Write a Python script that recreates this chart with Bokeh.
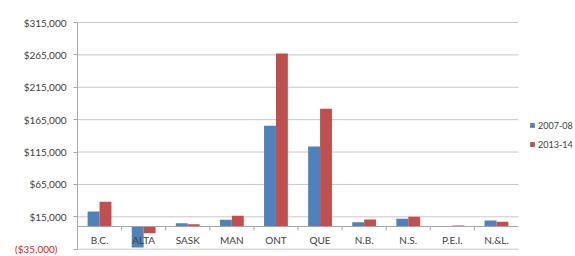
from bokeh.plotting import figure
from bokeh.models import (FixedTicker, NumeralTickFormatter, Legend, LegendItem,
                          LinearAxis, ColumnDataSource, Range1d)
from bokeh.core.properties import value
from bokeh.embed import file_html
from bokeh.resources import INLINE

provinces = ["B.C.", "ALTA", "SASK", "MAN", "ONT", "QUE", "N.B.", "N.S.", "P.E.I.", "N.&L."]
series_names = ["2007-08", "2013-14"]
values_0708 = [23200, -32400, 5200, 10300, 155500, 123500, 6800, 11900, 300, 9300]
values_1314 = [38100, -10200, 3700, 16500, 267100, 181700, 10800, 15000, 1500, 7300]
y_ticks = [-35000, 15000, 65000, 115000, 165000, 215000, 265000, 315000]

FONT = "Lato"
BLUE = "#4f81bd"
RED = "#c0504d"
GRID = "#c8c8c8"
AXIS = "#a6a6a6"
TXT = "#404040"

# layout (pixels)
FRAME_W, FRAME_H = 503, 248
CAT_PX = 44.1                     # width of one category slot
PX_PER_UNIT = 350000 / 226.7      # value units per pixel
BAR_W, OFF = 0.27, 0.135

n = len(provinces)
centers = [i + 0.5 for i in range(n)]
src = ColumnDataSource(dict(cat=provinces, xa=[c - OFF for c in centers],
                            xb=[c + OFF for c in centers], xc=centers,
                            a=values_0708, b=values_1314))

y_lo, y_hi = y_ticks[0], y_ticks[-1]
p = figure(x_range=Range1d(0, FRAME_W / CAT_PX),
           y_range=Range1d(y_lo - 4.3 * PX_PER_UNIT, y_hi + 17 * PX_PER_UNIT),
           width=567, height=248, frame_width=FRAME_W, frame_height=FRAME_H,
           output_backend="svg", toolbar_location=None)
p.outline_line_color = None
p.xgrid.grid_line_color = None
p.ygrid.grid_line_color = None
p.xaxis.visible = False

# horizontal gridlines over the category area only
p.segment(x0=[0] * len(y_ticks), x1=[n] * len(y_ticks), y0=y_ticks, y1=y_ticks,
          line_color=GRID, line_width=1)

r1 = p.vbar(x="xa", top="a", width=BAR_W, source=src, fill_color=BLUE, line_color=None)
r2 = p.vbar(x="xb", top="b", width=BAR_W, source=src, fill_color=RED, line_color=None)

# category axis line at zero, with ticks between categories
p.segment(x0=[0], x1=[n], y0=[0], y1=[0], line_color=AXIS, line_width=1)
bounds = list(range(1, n))
p.segment(x0=bounds, x1=bounds, y0=[0] * len(bounds), y1=[-6000] * len(bounds),
          line_color=AXIS, line_width=1)

# category labels just below the zero line
p.text(x="xc", y=0, text="cat", source=src, y_offset=13,
       text_align="center", text_baseline="middle", text_font=value(FONT),
       text_font_size="10px", text_color=TXT)

# y axis
p.yaxis.ticker = FixedTicker(ticks=y_ticks)
p.yaxis.bounds = (y_lo, y_hi)
p.yaxis.formatter = NumeralTickFormatter(format="$0,0")
p.yaxis.major_label_overrides = {y_lo: ""}
p.yaxis.axis_line_color = AXIS
p.yaxis.major_tick_line_color = AXIS
p.yaxis.major_tick_out = 4
p.yaxis.major_tick_in = 0
p.yaxis.minor_tick_line_color = None
p.yaxis.major_label_text_font = FONT
p.yaxis.major_label_text_font_size = "10px"
p.yaxis.major_label_text_color = TXT
p.yaxis.major_label_standoff = 7

# negative tick label in red (Excel accounting style)
neg_axis = LinearAxis(ticker=FixedTicker(ticks=[y_lo]),
                      formatter=NumeralTickFormatter(format="($0,0)"),
                      major_label_overrides={y_lo: "\u2007\u2007($35,000)"},
                      axis_line_color=None, major_tick_line_color=None,
                      minor_tick_line_color=None, major_tick_out=0, major_tick_in=0,
                      major_label_standoff=-37, major_label_text_font=FONT,
                      major_label_text_font_size="10px", major_label_text_color="#e02020")
p.add_layout(neg_axis, "left")

legend = Legend(items=[LegendItem(label=series_names[0], renderers=[r1]),
                       LegendItem(label=series_names[1], renderers=[r2])],
                location=(452, 103), padding=0, margin=0, spacing=7,
                glyph_width=6, glyph_height=6, label_height=12, label_standoff=3,
                label_text_font=FONT, label_text_font_size="9px", label_text_color=TXT,
                border_line_color=None, background_fill_alpha=0)
p.add_layout(legend, "center")

open("out.html", "w").write(file_html(p, INLINE))
